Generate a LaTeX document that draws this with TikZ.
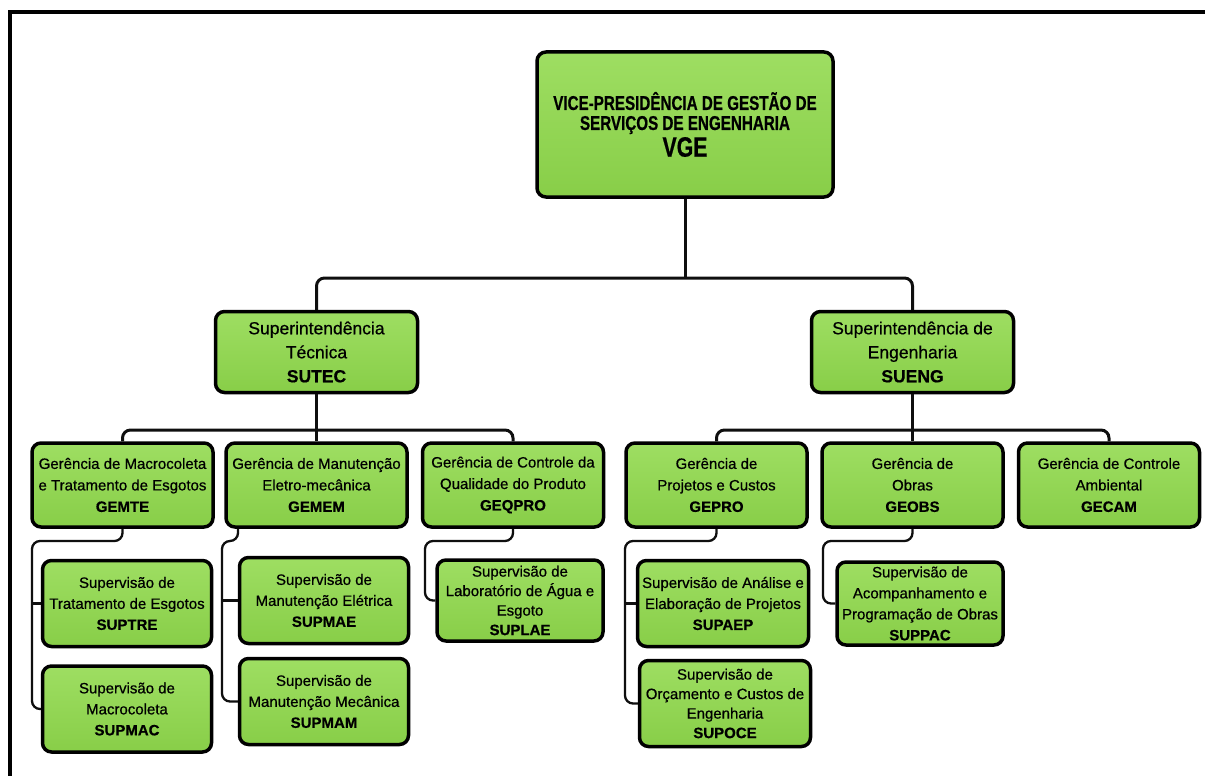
\documentclass[tikz,border=0pt]{standalone}
\usepackage{fontspec}
\setmainfont{Liberation Sans}[FakeBold=0.6]
\newfontfamily\headfont[FakeStretch=0.76,FakeBold=0.6]{Liberation Sans}
\definecolor{boxgreen}{RGB}{136,206,72}
\definecolor{boxlight}{RGB}{158,222,98}
\definecolor{linegray}{RGB}{15,15,15}
\begin{document}
\begin{tikzpicture}[x=1pt,y=-1pt,
  unit/.style={draw=black, line width=3.5pt, rounded corners=9pt,
    top color=boxlight, bottom color=boxgreen, align=center,
    inner sep=0pt, text=black},
  head/.style={unit, minimum width=296pt, minimum height=145pt,
    font=\headfont\bfseries\fontsize{20}{20}\selectfont},
  supt/.style={unit, minimum width=202pt, minimum height=81pt,
    font=\fontsize{17.5}{24}\selectfont},
  mgr/.style={unit, minimum width=181pt, minimum height=84pt,
    font=\fontsize{15}{21.5}\selectfont},
  sub/.style={unit, minimum width=169pt, minimum height=86pt,
    font=\fontsize{15}{21}\selectfont},
  subfour/.style={sub, font=\fontsize{15}{19.5}\selectfont},
  conn/.style={draw=linegray, line width=3pt, rounded corners=8pt},
  bracket/.style={draw=linegray, line width=2.3pt, rounded corners=8pt}]

\useasboundingbox (0,0) rectangle (1205,776);
\fill[white] (0,0) rectangle (1205,776);

% page frame (top and left edges)
\draw[line width=4.5pt] (10,776) -- (10,12) -- (1205,12);

% top level
\node[head] (vge) at (685,124.5) {VICE-PRESIDÊNCIA DE GESTÃO DE\\SERVIÇOS DE ENGENHARIA\\[2pt]{\fontsize{28}{28}\selectfont VGE}};

% superintendencies
\node[supt] (sutec) at (316.5,352) {Superintendência\\Técnica\\\textbf{SUTEC}};
\node[supt] (sueng) at (912.5,352) {Superintendência de\\Engenharia\\\textbf{SUENG}};

% managements
\node[mgr] (gemte)  at (122.5,485) {Gerência de Macrocoleta\\e Tratamento de Esgotos\\\textbf{GEMTE}};
\node[mgr] (gemem)  at (316.5,485) {Gerência de Manutenção\\Eletro-mecânica\\\textbf{GEMEM}};
\node[mgr] (geqpro) at (513,485)   {Gerência de Controle da\\Qualidade do Produto\\\textbf{GEQPRO}};
\node[mgr] (gepro)  at (716.5,485) {Gerência de\\Projetos e Custos\\\textbf{GEPRO}};
\node[mgr] (geobs)  at (912.5,485) {Gerência de\\Obras\\\textbf{GEOBS}};
\node[mgr] (gecam)  at (1109,485)  {Gerência de Controle\\Ambiental\\\textbf{GECAM}};

% supervisions
\node[sub] (suptre) at (127,603.5) {Supervisão de\\Tratamento de Esgotos\\\textbf{SUPTRE}};
\node[sub] (supmac) at (127,709)   {Supervisão de\\Macrocoleta\\\textbf{SUPMAC}};
\node[sub] (supmae) at (324,600.5) {Supervisão de\\Manutenção Elétrica\\\textbf{SUPMAE}};
\node[sub] (supmam) at (324,701.5) {Supervisão de\\Manutenção Mecânica\\\textbf{SUPMAM}};
\node[subfour, minimum width=166pt, minimum height=81pt] (suplae) at (520,600.5) {Supervisão de\\Laboratório de Água e\\Esgoto\\\textbf{SUPLAE}};
\node[sub, minimum width=171pt] (supaep) at (723,603.5) {Supervisão de Análise e\\Elaboração de Projetos\\\textbf{SUPAEP}};
\node[subfour, minimum width=171pt] (supoce) at (725,703.5) {Supervisão de\\Orçamento e Custos de\\Engenharia\\\textbf{SUPOCE}};
\node[sub, minimum width=166pt, minimum height=83pt] (suppac) at (920,603.5) {Supervisão de\\Acompanhamento e\\Programação de Obras\\\textbf{SUPPAC}};

% bus junctions
\coordinate (busA) at (685,278);
\coordinate (busB) at (317,430);
\coordinate (busC) at (912,430);
\coordinate (kGemte)  at (32,541);
\coordinate (dGemem)  at (238,541);
\coordinate (kGemem)  at (222,541);
\coordinate (kGeqpro) at (425,541);
\coordinate (kGepro)  at (625,541);
\coordinate (kGeobs)  at (823,541);

% upper connectors
\draw[conn] (vge.south) -- (busA);
\draw[conn] (sutec.north) |- (busA) -| (sueng.north);
\draw[conn] (sutec.south) -- (gemem.north);
\draw[conn] (gemte.north) |- (busB) -| (geqpro.north);
\draw[conn] (sueng.south) -- (geobs.north);
\draw[conn] (gepro.north) |- (busC) -| (gecam.north);

% brackets to supervisions
\draw[bracket] (gemte.south) |- (kGemte) |- (supmac.west);
\draw[bracket] (suptre.west -| kGemte) -- (suptre.west);

\draw[bracket] (dGemem |- gemem.south) |- (kGemem) |- (supmam.west);
\draw[bracket] (supmae.west -| kGemem) -- (supmae.west);

\draw[bracket] (geqpro.south) |- (kGeqpro) |- (suplae.west);

\draw[bracket] (gepro.south) |- (kGepro) |- (supoce.west);
\draw[bracket] (supaep.west -| kGepro) -- (supaep.west);

\draw[bracket] (geobs.south) |- (kGeobs) |- (suppac.west);
\end{tikzpicture}
\end{document}
